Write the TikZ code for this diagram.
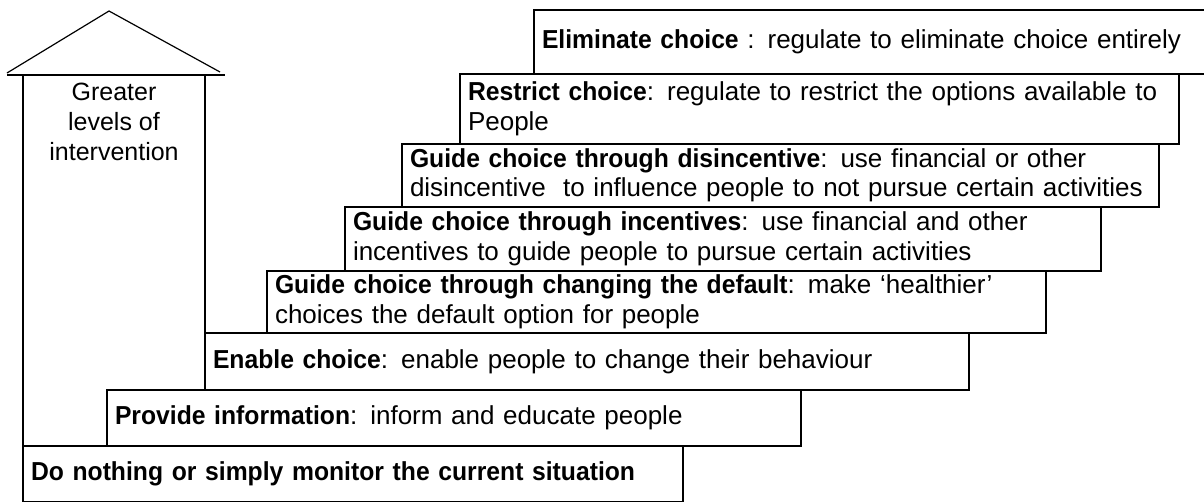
\documentclass[tikz,border=0pt]{standalone}
\usepackage{fontspec}
\setmainfont{Liberation Sans}[BoldFeatures={FakeStretch=0.95}]
\usepackage{tikz}
\usetikzlibrary{positioning}

\begin{document}
\begin{tikzpicture}[
  x=1pt, y=-1pt,
  font=\fontsize{26}{29.5}\selectfont,
  stair/.style={rectangle,draw,line width=2pt,outer sep=0pt,anchor=north west,
    inner xsep=8pt,inner ysep=0pt,align=left},
  roof/.style={line width=1.2pt},
  shaft/.style={line width=2pt}
]
\useasboundingbox (0,0) rectangle (1204,501);
\clip (0,0) rectangle (1204,501);

% the staircase, top step first
\node[stair,text width=656pt,minimum height=64pt] (elim) at (534,10)
  {\textbf{Eliminate choice} : regulate to eliminate choice entirely};
\node[stair,text width=703pt,minimum height=70pt] (restrict) at (460,74)
  {\textbf{Restrict choice}: regulate to restrict the options available to\\People};
\node[stair,text width=741pt,minimum height=63pt] (disinc) at (402,144)
  {\textbf{Guide choice through disincentive}: use financial or other\\disincentive\ \ to influence people to not pursue certain activities};
\node[stair,text width=740pt,minimum height=64pt] (incent) at (345,207)
  {\textbf{Guide choice through incentives}: use financial and other\\incentives to guide people to pursue certain activities};
\node[stair,text width=763pt,minimum height=62pt] (default) at (267,271)
  {\textbf{Guide choice through changing the default}: make ‘healthier’\\choices the default option for people};
\node[stair,text width=748pt,minimum height=57pt] (enable) at (205,333)
  {\textbf{Enable choice}: enable people to change their behaviour};
\node[stair,text width=678pt,minimum height=56pt] (provide) at (107,390)
  {\textbf{Provide information}: inform and educate people};
\node[stair,text width=644pt,minimum height=56pt] (nothing) at (23,446)
  {\textbf{Do nothing or simply monitor the current situation}};

% big upward arrow on the left
\coordinate (tip) at (109,11);
\coordinate (eaveL) at (7,73);
\coordinate (eaveR) at (220,72);
\coordinate (baseL) at (7,75);
\coordinate (baseR) at (225,75);
\coordinate (shaftL) at (23,75);
\coordinate (shaftR) at (205,75);
\draw[roof] (eaveL) -- (tip) -- (eaveR);
\draw[shaft] (baseL) -- (baseR);
\draw[shaft] (shaftL) -- (nothing.north west);
\draw[shaft] (shaftR) -- (enable.north west);
\node[align=center,inner sep=0pt,anchor=north,font=\fontsize{25}{30}\selectfont] (lbl) at (114,83)
  {Greater\\levels of\\intervention};
\end{tikzpicture}
\end{document}
